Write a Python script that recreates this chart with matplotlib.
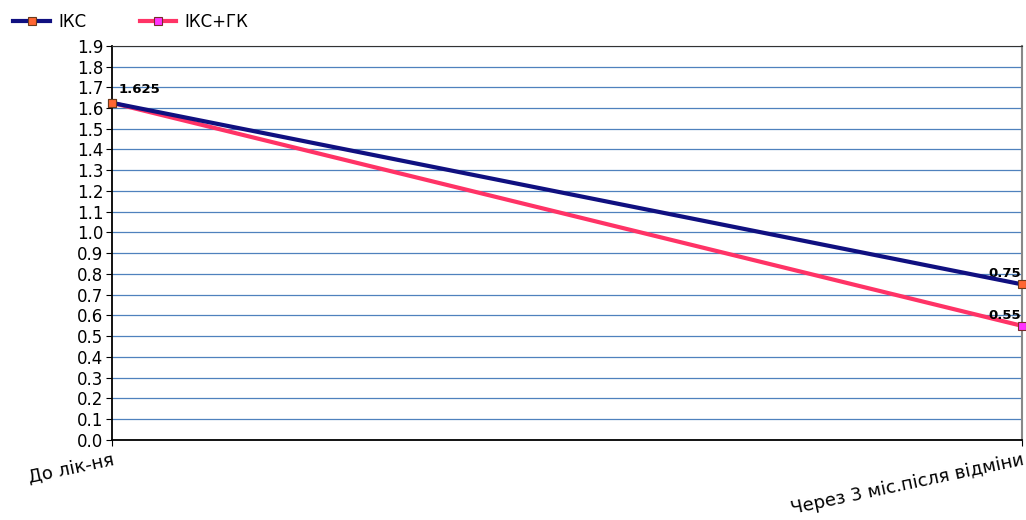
import matplotlib
matplotlib.use("Agg")
import matplotlib.pyplot as plt
import numpy as np

plt.rcParams['font.family'] = ['DejaVu Sans']

categories = ["До лік-ня", "Через 3 міс.після відміни"]
iks = [1.625, 0.75]
iks_gk = [1.625, 0.55]
yticks = [round(0.1 * i, 1) for i in range(20)]

fig = plt.figure(figsize=(10.26, 5.2), dpi=100)
ax = fig.add_axes([0.109, 0.154, 0.887, 0.758])

x = np.arange(len(categories))
l2, = ax.plot(x, iks_gk, color='#ff3366', lw=3, marker='s', ms=6,
              mfc='#ff33ff', mec='#7a2a2a', mew=0.8, label='ІКС+ГК', zorder=3, clip_on=False)
l1, = ax.plot(x, iks, color='#101080', lw=3, marker='s', ms=6,
              mfc='#ff6633', mec='#6b3a1a', mew=0.8, label='ІКС', zorder=4, clip_on=False)

ax.set_xlim(0, 1)
ax.set_ylim(0, 1.9)
ax.set_yticks(yticks)
ax.set_yticklabels([f"{v:.1f}" for v in yticks], fontsize=12)
ax.set_xticks(x)
ax.set_xticklabels(categories, fontsize=13, rotation=12, ha='right', rotation_mode='anchor')
ax.tick_params(axis='x', length=4, pad=4)
ax.tick_params(axis='y', length=4, pad=2)

ax.grid(axis='y', color='#4f81bd', lw=0.9)
ax.set_axisbelow(True)
ax.spines['top'].set_color('#333333')
ax.spines['top'].set_linewidth(0.8)
ax.spines['right'].set_color('#888888')
ax.spines['right'].set_linewidth(1.5)
ax.spines['left'].set_color('black')
ax.spines['bottom'].set_color('black')
ax.spines['left'].set_linewidth(1.3)
ax.spines['bottom'].set_linewidth(1.3)

ax.annotate("1.625", (x[0], iks[0]), xytext=(5, 5), textcoords='offset points',
            fontsize=9.5, fontweight='bold', ha='left', va='bottom')
ax.annotate("0.75", (x[1], iks[1]), xytext=(-1, 3), textcoords='offset points',
            fontsize=9.5, fontweight='bold', ha='right', va='bottom')
ax.annotate("0.55", (x[1], iks_gk[1]), xytext=(-1, 3), textcoords='offset points',
            fontsize=9.5, fontweight='bold', ha='right', va='bottom')

fig.legend(handles=[l1, l2], labels=['ІКС', 'ІКС+ГК'], loc='upper left',
           bbox_to_anchor=(0.0, 1.0), ncol=2, frameon=False, fontsize=12,
           handlelength=2.2, columnspacing=3.2, handletextpad=0.5, borderaxespad=0.4)

fig.savefig("out.png", dpi=100)
